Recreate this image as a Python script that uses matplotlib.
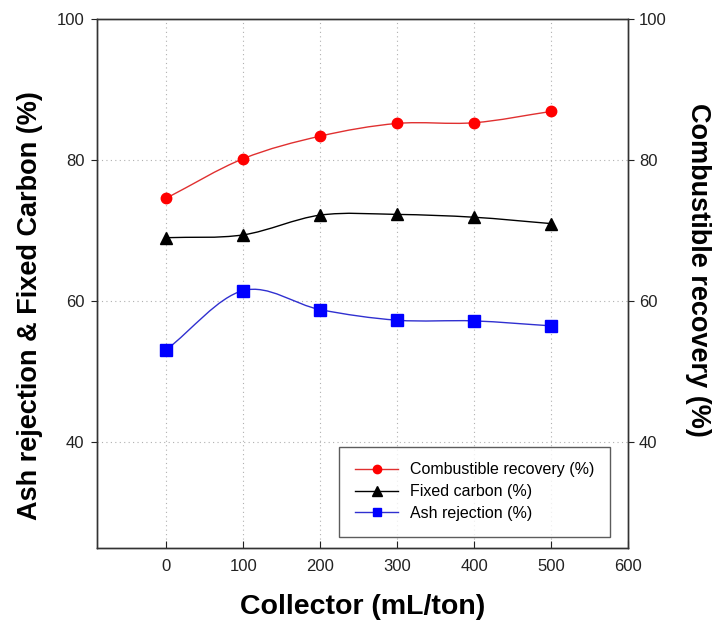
import numpy as np
import matplotlib
matplotlib.use("Agg")
import matplotlib.pyplot as plt
from matplotlib.path import Path
from matplotlib.patches import PathPatch
from matplotlib.lines import Line2D

plt.rcParams['font.family'] = ['Liberation Sans', 'DejaVu Sans']

collector = [0, 100, 200, 300, 400, 500]
combustible_recovery = [74.6, 80.2, 83.4, 85.2, 85.3, 86.9]
fixed_carbon = [69.0, 69.4, 72.2, 72.3, 71.9, 71.0]
ash_rejection = [53.1, 61.5, 58.8, 57.3, 57.2, 56.5]

x_ticks = [0, 100, 200, 300, 400, 500, 600]
y_ticks = [40, 60, 80, 100]


def smooth_path(x, y):
    """Catmull-Rom style Bezier path through the data points."""
    x = np.asarray(x, float)
    y = np.asarray(y, float)
    n = len(x)
    m = np.zeros(n)
    m[0] = (y[1] - y[0]) / (x[1] - x[0])
    m[-1] = (y[-1] - y[-2]) / (x[-1] - x[-2])
    for i in range(1, n - 1):
        m[i] = (y[i + 1] - y[i - 1]) / (x[i + 1] - x[i - 1])
    verts = [(x[0], y[0])]
    codes = [Path.MOVETO]
    for i in range(n - 1):
        h = x[i + 1] - x[i]
        verts += [(x[i] + h / 3, y[i] + m[i] * h / 3),
                  (x[i + 1] - h / 3, y[i + 1] - m[i + 1] * h / 3),
                  (x[i + 1], y[i + 1])]
        codes += [Path.CURVE4] * 3
    return Path(verts, codes)


fig = plt.figure(figsize=(7.16, 6.23), dpi=100)
ax = fig.add_axes([0.1355, 0.1204, 0.7415, 0.849])

series = [
    (combustible_recovery, 'red', '#e03030', 'o', 'Combustible recovery (%)', 7.5),
    (fixed_carbon, 'black', 'black', '^', 'Fixed carbon (%)', 8.5),
    (ash_rejection, 'blue', '#3030d0', 's', 'Ash rejection (%)', 8),
]
handles = []
for vals, col, lcol, mk, lab, ms in series:
    ax.add_patch(PathPatch(smooth_path(collector, vals), facecolor='none',
                           edgecolor=lcol, lw=1.0, zorder=3))
    ax.plot(collector, vals, linestyle='none', marker=mk, color=col,
            markersize=ms, zorder=4)
    handles.append(Line2D([], [], color=lcol, marker=mk, markersize=ms * 0.8,
                          markerfacecolor=col, markeredgecolor=col,
                          lw=1.0, label=lab))

ax.set_xlim(-90, 600)
ax.set_ylim(25, 100)
ax.set_xticks(x_ticks)
ax.set_yticks(y_ticks)
for v in x_ticks[:-1]:
    ax.axvline(v, color='#b0b0b0', ls=(0, (1, 3)), lw=0.8, zorder=1)
for v in y_ticks[:-1]:
    ax.axhline(v, color='#b0b0b0', ls=(0, (1, 3)), lw=0.8, zorder=1)

ax.tick_params(axis='both', direction='in', labelsize=12, length=5,
               colors='#222222', pad=8)
ax.tick_params(axis='y', direction='out', length=4, pad=5)
for s in ax.spines.values():
    s.set_color('#333333')
    s.set_linewidth(1.0)

ax.set_xlabel('Collector (mL/ton)', fontsize=20.5, fontweight='bold', labelpad=14)
ax.set_ylabel('Ash rejection & Fixed Carbon (%)', fontsize=19.5,
              fontweight='bold', labelpad=10)
ax.yaxis.label.set_y(0.459)

ax2 = ax.twinx()
ax2.set_ylim(25, 100)
ax2.set_yticks(y_ticks)
ax2.tick_params(axis='y', direction='out', labelsize=12, length=4,
                colors='#222222', pad=4)
ax2.set_ylabel('Combustible recovery (%)', fontsize=19.5, fontweight='bold',
               rotation=-90, labelpad=32)
ax2.yaxis.label.set_y(0.526)
for s in ax2.spines.values():
    s.set_color('#333333')
    s.set_linewidth(1.0)

leg = ax.legend(handles=handles, loc='lower right',
                bbox_to_anchor=(0.966, 0.021), borderaxespad=0,
                fontsize=11.5, frameon=True, fancybox=False,
                edgecolor='#333333', handlelength=2.7, labelspacing=0.42,
                borderpad=1.0, handletextpad=0.7)
leg.get_frame().set_linewidth(1.0)
leg.set_zorder(10)

fig.savefig('out.png', dpi=100)
